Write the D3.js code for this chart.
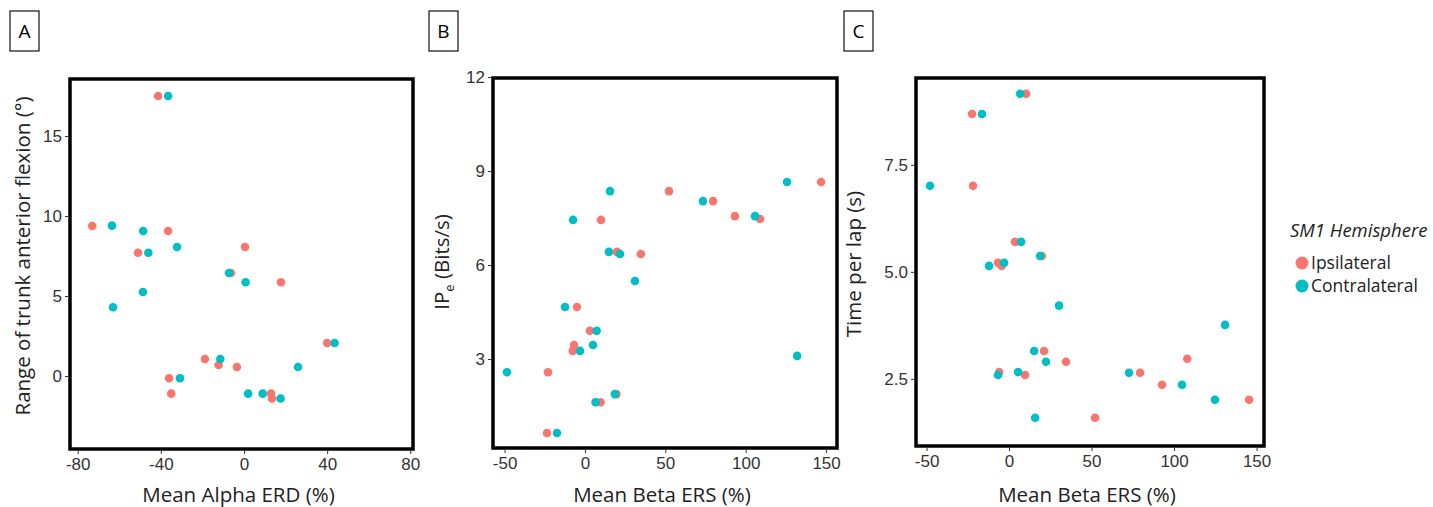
<!DOCTYPE html>
<html>
<head>
<meta charset="utf-8">
<script src="https://cdn.jsdelivr.net/npm/d3@7"></script>
<style>
  body { margin: 0; background: #fff; }
  .tick text { font-family: "Liberation Sans", Arial, sans-serif; font-size: 17px; fill: #333; }
  .tick line { stroke: #333; }
  .domain { display: none; }
  .title { font-family: "Open Sans", sans-serif; font-size: 20.5px; fill: #222; }
</style>
</head>
<body>
<script>
// series: [x, y] pairs
var ipsiA = [[-41.3, 17.5], [-73, 9.37], [-36.5, 9.06], [0.5, 8.06], [-51, 7.7], [-6.3, 6.44],
    [17.8, 5.86], [40, 2.06], [-18.8, 1.06], [-12.2, 0.69], [-3.4, 0.56], [-36, -0.14],
    [-35, -1.1], [13, -1.1], [13.5, -1.4]];
var contraA = [[-36.5, 17.5], [-63.5, 9.4], [-48.5, 9.06], [-32.2, 8.06], [-46, 7.7], [-7.2, 6.44],
    [0.8, 5.86], [-48.6, 5.25], [-63, 4.3], [43.6, 2.06], [-11.4, 1.06], [26, 0.56],
    [-30.8, -0.14], [2, -1.1], [9, -1.1], [17.6, -1.4]];

var ipsiB = [[146.9, 8.65], [52.3, 8.36], [79.7, 8.04], [93.3, 7.56], [108.9, 7.47], [10, 7.44],
    [19.9, 6.42], [34.8, 6.35], [-5, 4.66], [3.1, 3.9], [-6.8, 3.45], [-7.6, 3.26],
    [-23, 2.58], [19.6, 1.88], [9.7, 1.62], [-23.6, 0.64]];
var contraB = [[125.7, 8.65], [15.6, 8.36], [73.4, 8.04], [105.8, 7.56], [-7.4, 7.44], [14.9, 6.42],
    [21.8, 6.35], [31.1, 5.49], [-12.4, 4.66], [7.3, 3.9], [5, 3.45], [-3.1, 3.26],
    [132, 3.1], [-48.5, 2.58], [18.6, 1.88], [6.6, 1.62], [-17.4, 0.64]];

var ipsiC = [[10.3, 9.16], [-22.4, 8.69], [-21.8, 7.01], [3.6, 5.7], [19.8, 5.37], [-6.7, 5.21],
    [-4.5, 5.14], [21.2, 3.15], [108, 2.97], [34.5, 2.9], [-6, 2.66], [9.7, 2.59],
    [79.4, 2.64], [92.7, 2.36], [145.5, 2.01], [52.1, 1.59]];
var contraC = [[6.7, 9.16], [-16.4, 8.69], [-47.9, 7.01], [7.3, 5.7], [18.8, 5.37], [-12.1, 5.14],
    [-3, 5.21], [30.3, 4.21], [130.9, 3.76], [15.2, 3.15], [22.4, 2.9], [5.5, 2.66],
    [-6.7, 2.59], [72.7, 2.64], [104.8, 2.36], [124.8, 2.01], [15.8, 1.59]];

var xTicksA = [-80, -40, 0, 40, 80],
    yTicksA = [0, 5, 10, 15],
    xTicksBC = [-50, 0, 50, 100, 150],
    yTicksB = [3, 6, 9, 12],
    yTicksC = [2.5, 5.0, 7.5];

var groups = ['Ipsilateral', 'Contralateral'];
var colors = ['#F8766D', '#00BFC4'];

var width = 1433, height = 507;

// plain hyphen minus, like the original
var intFmt = d => String(d);
var oneDec = d => d.toFixed(1);

var svg = d3.select('body').append('svg')
    .attr('width', width)
    .attr('height', height);

var panels = [
    {
        label: 'A', labelX: 10,
        box: [70, 79, 413, 449],
        xd: [-83.7, 81.3], yd: [-4.56, 18.56],
        xt: xTicksA, yt: yTicksA, yfmt: intFmt,
        series: [ipsiA, contraA],
        xTitle: 'Mean Alpha ERD (%)', yTitle: 'Range of trunk anterior flexion (°)', yTitleX: 30, yTitleY: 256
    },
    {
        label: 'B', labelX: 429,
        box: [493, 78, 837, 448],
        xd: [-57.2, 156.8], yd: [0.16, 11.97],
        xt: xTicksBC, yt: yTicksB, yfmt: intFmt,
        series: [ipsiB, contraB],
        xTitle: 'Mean Beta ERS (%)', yTitle: null, yTitleX: 449, yTitleY: 262
    },
    {
        label: 'C', labelX: 844,
        box: [916, 78, 1264, 446],
        xd: [-56.4, 154.5], yd: [0.93, 9.53],
        xt: xTicksBC, yt: yTicksC, yfmt: oneDec,
        series: [ipsiC, contraC],
        xTitle: 'Mean Beta ERS (%)', yTitle: 'Time per lap (s)', yTitleX: 861, yTitleY: 264
    }
];

panels.forEach(function(p) {
    var g = svg.append('g');
    var x = d3.scaleLinear().domain(p.xd).range([p.box[0], p.box[2]]);
    var y = d3.scaleLinear().domain(p.yd).range([p.box[3], p.box[1]]);

    // panel letter in a box
    g.append('rect')
        .attr('x', p.labelX).attr('y', 11)
        .attr('width', 29).attr('height', 40)
        .attr('fill', 'none').attr('stroke', '#111').attr('stroke-width', 1.2);
    g.append('text')
        .attr('x', p.labelX + 14.5).attr('y', 38)
        .attr('text-anchor', 'middle')
        .style('font-family', '"Open Sans", sans-serif')
        .style('font-size', '19px')
        .text(p.label);

    // axes
    g.append('g')
        .attr('transform', 'translate(0,' + (p.box[3] + 2) + ')')
        .call(d3.axisBottom(x).tickValues(p.xt).tickFormat(intFmt).tickSize(3).tickPadding(4));
    g.append('g')
        .attr('transform', 'translate(' + (p.box[0] - 2) + ',0)')
        .call(d3.axisLeft(y).tickValues(p.yt).tickFormat(p.yfmt).tickSize(3).tickPadding(3));

    // points
    p.series.forEach(function(s, k) {
        g.append('g').selectAll('circle')
            .data(s).enter()
            .append('circle')
            .attr('cx', d => x(d[0]))
            .attr('cy', d => y(d[1]))
            .attr('r', 4.3)
            .attr('fill', colors[k]);
    });

    // thick frame
    g.append('rect')
        .attr('x', p.box[0]).attr('y', p.box[1])
        .attr('width', p.box[2] - p.box[0]).attr('height', p.box[3] - p.box[1])
        .attr('fill', 'none').attr('stroke', '#000').attr('stroke-width', 3.5);

    // titles
    g.append('text')
        .attr('class', 'title')
        .attr('x', (p.box[0] + p.box[2]) / 2 - 3)
        .attr('y', 502)
        .attr('text-anchor', 'middle')
        .text(p.xTitle);

    var yt = g.append('text')
        .attr('class', 'title')
        .attr('transform', 'translate(' + p.yTitleX + ',' + p.yTitleY + ') rotate(-90)')
        .attr('text-anchor', 'middle');
    if (p.yTitle) {
        yt.text(p.yTitle);
    } else {
        yt.append('tspan').text('IP');
        yt.append('tspan').attr('dy', 5).style('font-size', '13px').text('e');
        yt.append('tspan').attr('dy', -5).text(' (Bits/s)');
    }
});

// legend
var legend = svg.append('g').attr('transform', 'translate(1290,0)');
legend.append('text')
    .attr('x', 0).attr('y', 237)
    .style('font-family', '"Open Sans", sans-serif')
    .style('font-size', '18.5px')
    .style('font-style', 'italic')
    .style('fill', '#222')
    .text('SM1 Hemisphere');

var items = legend.selectAll('.item')
    .data(groups).enter()
    .append('g')
    .attr('class', 'item')
    .attr('transform', (d, i) => 'translate(0,' + (262 + i * 23) + ')');
items.append('circle')
    .attr('cx', 12).attr('cy', 1)
    .attr('r', 6.5)
    .attr('fill', (d, i) => colors[i]);
items.append('text')
    .attr('x', 21).attr('y', 6.5)
    .style('font-family', '"Open Sans", sans-serif')
    .style('font-size', '17.5px')
    .style('fill', '#222')
    .text(d => d);
</script>
</body>
</html>
